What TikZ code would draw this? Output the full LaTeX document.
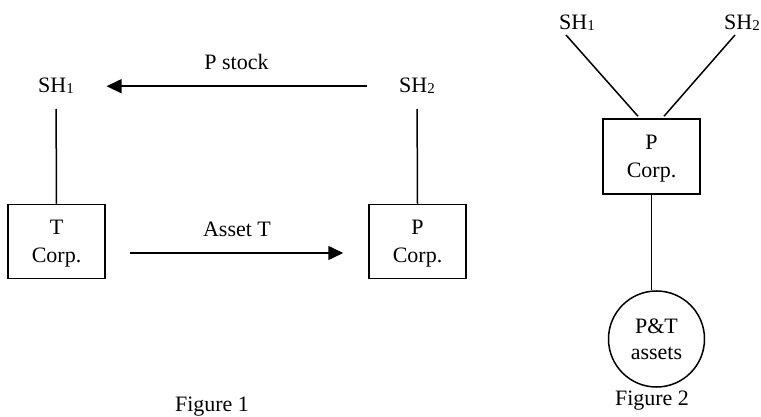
\documentclass[tikz,border=0pt]{standalone}
\usepackage{fontspec}
\setmainfont{Liberation Serif}
\usepackage{tikz}
\usetikzlibrary{arrows.meta}

\newcommand{\shsub}[1]{\raisebox{-1pt}{\fontsize{15}{15}\selectfont #1}}

\begin{document}
\begin{tikzpicture}[x=1pt,y=-1pt, % one unit = one pixel of the page
	> = {Triangle[length=15pt,width=14pt]}, % arrow head style
	line width=1.5pt,
	every node/.style={inner sep=0pt,font=\fontsize{22}{28}\selectfont},
	holder/.style={anchor=base},
	corp/.style={draw,align=center,minimum width=97pt,minimum height=74pt,text depth=0pt},
	pool/.style={draw,circle,align=center,minimum size=96pt,text depth=0pt,font=\fontsize{22}{26}\selectfont}]
	\useasboundingbox (0,0) rectangle (761,417);

	% Figure 1
	\node[holder] (sh1a) at (56,93)		{SH\shsub{1}};
	\node[holder] (sh2a) at (417,93)	{SH\shsub{2}};
	\node[corp] (tcorp) at (56.5,241.5)	{T\\Corp.};
	\node[corp] (pcorpa) at (417.5,241.5)	{P\\Corp.};
	\node[anchor=base] (fig1) at (212,411)	{Figure 1};

	\draw[->,shorten <=31pt,shorten >=32pt] (sh2a.west)--(sh1a.east)
		node[midway,above=16pt] {P stock};
	\draw[->,shorten <=24pt,shorten >=25pt] ([yshift=-11.5pt]tcorp.east)--([yshift=-11.5pt]pcorpa.west)
		node[midway,above=16pt] {Asset T};
	\draw[shorten <=16pt] (sh1a.base)--(tcorp.north);
	\draw[shorten <=16pt] (sh2a.base)--(pcorpa.north);

	% Figure 2
	\node[holder] (sh1b) at (577,30)	{SH\shsub{1}};
	\node[holder] (sh2b) at (742,30)	{SH\shsub{2}};
	\node[corp,minimum height=75pt] (pcorpb) at (651.5,156.5)	{P\\Corp.};
	\node[pool] (assets) at (656.5,339)	{P\&T\\assets};
	\node[anchor=base] (fig2) at (652,405)	{Figure 2};

	\draw ([xshift=-11pt,yshift=-5pt]sh1b.base)--([xshift=-13.5pt,yshift=2pt]pcorpb.north);
	\draw ([xshift=-7pt,yshift=-5pt]sh2b.base)--([xshift=12.5pt,yshift=2pt]pcorpb.north);
	\draw (pcorpb.south)--(pcorpb.south |- assets.north);

\end{tikzpicture}
\end{document}
